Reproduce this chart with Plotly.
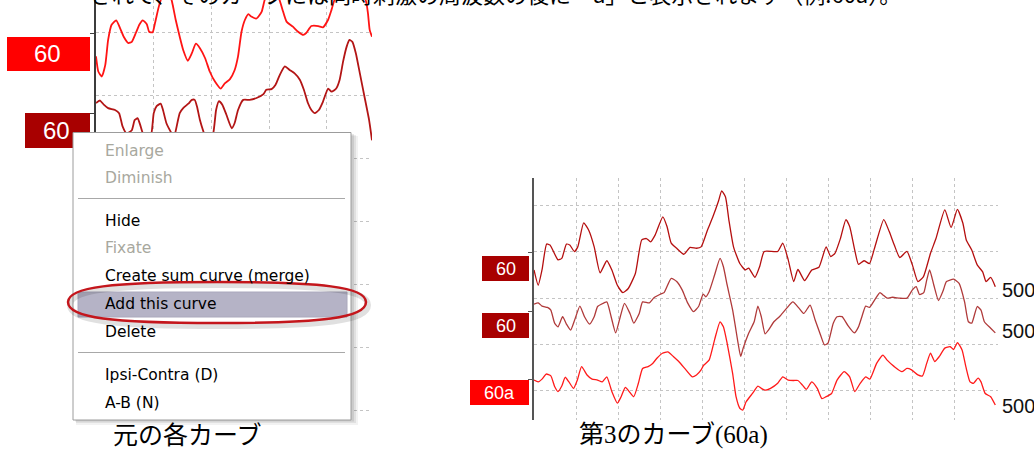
import plotly.graph_objects as go

W, H = 1034, 452

# ---------------- data (time in grid divisions, amplitude in grid divisions) -------------
# Left panel (original curves, partly hidden behind the context menu)
left_a_t = [0.00,0.04,0.10,0.16,0.21,0.27,0.35,0.42,0.48,0.56,0.62,0.69,0.75,0.81,0.88,0.92,0.98,1.02,1.08,1.12,1.21,1.31,1.33,1.38,1.45,1.51,1.59,1.66,1.73,1.80,1.89,1.97,2.06,2.16,2.23,2.32,2.40,2.46,2.52,2.58,2.64,2.69,2.78,2.87,2.92,3.06,3.18,3.23,3.30,3.41,3.50,3.59,3.64,3.73,3.85,3.93,4.02,4.08,4.13,4.39,4.67,4.71,4.74,4.78]
left_a_v = [5.62,5.38,5.30,5.48,5.88,6.12,6.19,6.06,5.93,5.83,5.85,5.99,6.12,6.19,6.13,6.01,6.00,6.14,6.38,6.51,6.75,6.51,6.43,6.20,5.93,5.72,5.55,5.67,5.82,5.75,5.59,5.38,5.22,5.11,5.19,5.26,5.40,5.62,6.01,6.20,6.29,6.25,6.22,6.33,6.51,6.83,6.51,6.36,6.17,6.09,6.01,5.96,5.99,6.10,6.10,6.08,6.20,6.36,6.51,6.83,6.51,6.30,6.04,5.93]
left_b_t = [0.00,0.07,0.14,0.21,0.33,0.40,0.46,0.53,0.62,0.67,0.72,0.76,0.81,0.88,0.96,1.00,1.05,1.12,1.16,1.22,1.29,1.34,1.37,1.45,1.51,1.60,1.66,1.71,1.75,1.80,1.86,1.94,2.03,2.08,2.13,2.19,2.26,2.35,2.40,2.46,2.55,2.66,2.78,2.90,2.95,3.04,3.11,3.18,3.27,3.36,3.44,3.53,3.60,3.67,3.73,3.79,3.86,3.93,4.02,4.08,4.16,4.22,4.28,4.34,4.39,4.44,4.50,4.57,4.65,4.73,4.78]
left_b_v = [4.88,4.92,4.85,4.80,4.77,4.72,4.51,4.40,4.45,4.61,4.64,4.55,4.40,4.27,4.40,4.72,4.83,4.87,4.77,4.56,4.43,4.35,4.40,4.72,4.80,4.87,4.93,4.93,4.82,4.61,4.43,4.24,4.40,4.77,4.91,4.85,4.69,4.48,4.56,4.77,4.93,4.93,4.96,5.02,5.09,5.10,5.17,5.32,5.46,5.40,5.35,5.25,5.09,4.88,4.77,4.72,4.77,4.90,5.11,5.06,5.11,5.25,5.54,5.77,5.88,5.85,5.67,5.35,4.98,4.61,4.29]

# Right panel (two original curves + the added curve "60a")
r1_t = [0.00,0.10,0.19,0.30,0.38,0.57,0.66,0.77,0.85,0.96,1.04,1.18,1.30,1.43,1.57,1.73,1.85,1.98,2.11,2.24,2.41,2.56,2.67,2.77,2.88,3.06,3.16,3.26,3.39,3.56,3.71,3.86,3.97,4.12,4.25,4.38,4.46,4.55,4.63,4.74,4.89,5.02,5.10,5.25,5.36,5.47,5.79,5.91,6.04,6.17,6.27,6.43,6.60,6.77,6.94,7.05,7.15,7.28,7.41,7.50,7.62,7.71,7.84,7.97,8.09,8.31,8.44,8.56,8.69,8.86,8.99,9.12,9.25,9.42,9.55,9.76,9.91,10.06,10.19,10.27,10.40,10.53,10.66,10.74,10.85,10.96]
r1_v = [2.61,2.28,2.61,3.17,3.15,2.83,2.86,3.17,3.15,3.01,3.11,3.63,3.47,3.11,2.55,2.81,2.61,2.28,2.12,2.21,2.54,3.26,3.29,3.22,3.37,3.76,3.55,3.19,3.08,2.95,3.10,3.08,3.11,3.47,3.76,4.09,4.32,4.19,3.69,3.11,2.75,2.61,2.65,2.45,2.68,3.01,3.01,3.19,2.83,2.36,2.62,2.38,2.61,2.67,3.11,2.90,2.97,3.29,3.70,3.55,3.04,2.73,2.81,2.75,3.08,3.70,3.44,3.15,2.88,3.01,2.72,2.36,2.46,2.97,3.29,3.91,3.53,3.92,3.62,3.26,3.04,2.72,2.57,2.36,2.45,2.25]
r2_t = [0.00,0.10,0.19,0.32,0.40,0.49,0.57,0.68,0.77,0.87,0.97,1.09,1.20,1.32,1.43,1.51,1.60,1.73,1.83,1.94,2.05,2.15,2.28,2.37,2.50,2.58,2.74,2.85,3.01,3.09,3.26,3.39,3.52,3.65,3.79,3.91,4.02,4.08,4.16,4.29,4.42,4.50,4.59,4.72,4.85,4.91,4.97,5.10,5.23,5.32,5.40,5.49,5.57,5.70,5.83,6.00,6.15,6.30,6.41,6.56,6.68,6.81,6.90,6.98,7.11,7.20,7.32,7.45,7.61,7.71,7.79,7.88,7.97,8.09,8.22,8.29,8.39,8.52,8.69,8.86,8.99,9.08,9.16,9.26,9.33,9.40,9.50,9.61,9.72,9.80,9.97,10.10,10.23,10.32,10.40,10.53,10.62,10.70,10.85,10.96]
r2_v = [1.87,1.90,1.83,1.80,1.74,1.46,1.38,1.60,1.44,1.31,1.54,1.83,1.60,1.44,1.60,1.82,1.87,1.92,1.61,1.25,1.60,1.89,1.67,1.46,1.67,1.92,1.90,2.01,2.09,2.12,2.43,2.36,2.18,1.90,1.71,1.82,2.09,2.03,2.14,2.50,2.86,2.68,2.28,1.74,1.02,0.74,0.92,1.24,1.49,1.83,1.60,1.23,1.31,1.49,1.60,1.78,1.92,1.78,1.67,1.85,1.53,1.20,0.99,1.02,1.46,1.60,1.60,1.42,1.25,1.38,1.60,1.83,1.80,1.96,2.12,2.07,2.00,2.02,2.00,2.00,2.18,2.25,2.08,2.12,2.39,2.61,2.28,1.95,2.16,2.36,2.41,2.32,1.92,1.49,1.46,1.82,1.74,1.49,1.35,1.25]
r3_t = [0.00,0.10,0.19,0.29,0.40,0.49,0.57,0.66,0.74,0.83,0.94,1.03,1.13,1.26,1.38,1.51,1.62,1.73,1.85,1.98,2.07,2.17,2.28,2.37,2.48,2.58,2.71,2.82,2.92,3.05,3.18,3.31,3.44,3.61,3.76,3.86,3.97,4.03,4.16,4.29,4.42,4.50,4.59,4.72,4.80,4.89,4.96,5.04,5.19,5.32,5.40,5.50,5.62,5.79,5.91,6.04,6.17,6.27,6.38,6.47,6.60,6.73,6.84,6.94,7.07,7.20,7.37,7.50,7.62,7.75,7.88,7.98,8.14,8.29,8.39,8.56,8.74,8.86,8.97,9.12,9.23,9.33,9.42,9.52,9.63,9.76,9.89,9.97,10.06,10.17,10.26,10.36,10.44,10.55,10.62,10.72,10.85,10.96]
r3_v = [0.23,0.19,0.25,0.36,0.32,0.09,-0.02,0.10,0.29,0.19,0.05,0.23,0.52,0.34,0.25,0.23,0.19,0.30,-0.02,-0.27,-0.13,0.07,-0.04,-0.13,0.16,0.48,0.52,0.59,0.70,0.81,0.84,0.74,0.63,0.45,0.30,0.34,0.45,0.55,0.66,1.10,1.49,1.38,1.02,0.37,-0.13,-0.38,-0.42,-0.24,-0.06,0.10,0.05,0.01,0.05,0.16,0.30,0.23,0.22,0.22,0.12,0.03,0.19,0.05,-0.17,-0.13,-0.06,0.23,0.41,0.30,-0.02,0.16,0.30,0.25,0.59,0.77,0.66,0.52,0.41,0.48,0.45,0.34,0.32,0.59,0.81,0.63,0.74,0.92,0.95,0.89,1.04,0.88,0.52,0.19,0.16,0.27,0.19,-0.06,-0.13,-0.31]

left_labels = ["60", "60"]
right_labels = ["60", "60", "60a"]
right_scale = ["500", "500", "500"]
menu_items = ["Enlarge", "Diminish", "Hide", "Fixate", "Create sum curve (merge)",
              "Add this curve", "Delete", "Ipsi-Contra (D)", "A-B (N)"]
menu_enabled = [False, False, True, False, True, True, True, True, True]
captions = ["元の各カーブ", "第3のカーブ(60a)"]
top_text = "されて、そのカーブには同時刺激の周波数の後に「a」と表示されます（例:60a）。"


def X(p):
    return p / W


def Y(p):
    return 1 - p / H


fig = go.Figure()

line_kw = dict(mode="lines", hoverinfo="skip", showlegend=False)
fig.add_trace(go.Scatter(x=left_a_t, y=left_a_v, line=dict(color="#ff1414", width=1.8, shape="spline", smoothing=0.5), xaxis="x", yaxis="y", **line_kw))
fig.add_trace(go.Scatter(x=left_b_t, y=left_b_v, line=dict(color="#b31515", width=1.8, shape="spline", smoothing=0.5), xaxis="x", yaxis="y", **line_kw))
fig.add_trace(go.Scatter(x=r1_t, y=r1_v, line=dict(color="#b50f0f", width=1.3, shape="spline", smoothing=0.5), xaxis="x2", yaxis="y2", **line_kw))
fig.add_trace(go.Scatter(x=r2_t, y=r2_v, line=dict(color="#b03a3a", width=1.3, shape="spline", smoothing=0.5), xaxis="x2", yaxis="y2", **line_kw))
fig.add_trace(go.Scatter(x=r3_t, y=r3_v, line=dict(color="#ff1a1a", width=1.3, shape="spline", smoothing=0.5), xaxis="x2", yaxis="y2", **line_kw))

grid = dict(showgrid=True, gridcolor="#c4c4c4", gridwidth=1, griddash="3px,3px",
            zeroline=False, showticklabels=False, ticks="", tick0=0, dtick=1, fixedrange=True)

fig.update_layout(
    width=W, height=H,
    margin=dict(l=0, r=0, t=0, b=0),
    paper_bgcolor="white", plot_bgcolor="rgba(0,0,0,0)",
    xaxis=dict(domain=[X(96), X(372)], range=[0, 4.78], anchor="y", showline=False, **grid),
    yaxis=dict(domain=[Y(420), 1], range=[-0.143, 6.513], anchor="x", showline=True,
               linecolor="#3c3c3c", linewidth=2,
               minor=dict(tickmode="array", tickvals=[5.99, 4.72], ticks="outside", ticklen=4,
                          tickcolor="#3c3c3c", tickwidth=1, showgrid=False),
               **grid),
    xaxis2=dict(domain=[X(534), X(534 + 11.02 * 42.09)], range=[0, 11.02], anchor="y2", showline=False, **grid),
    yaxis2=dict(domain=[Y(420), Y(178)], range=[-0.634, 4.599], anchor="x2", showline=True,
                linecolor="#555555", linewidth=2,
                minor=dict(tickmode="array", tickvals=[2.98, 1.72, 0.25], ticks="outside", ticklen=4,
                           tickcolor="#555555", tickwidth=1, showgrid=False),
                **grid),
)

shapes = []
annotations = []


def rect(x0, y0, x1, y1, fill, line=None, lw=0):
    shapes.append(dict(type="rect", xref="paper", yref="paper", x0=X(x0), x1=X(x1), y0=Y(y1), y1=Y(y0),
                       fillcolor=fill, line=dict(color=line or fill, width=lw), layer="above"))


def hline(x0, x1, y, color, lw=1):
    shapes.append(dict(type="line", xref="paper", yref="paper", x0=X(x0), x1=X(x1), y0=Y(y), y1=Y(y),
                       line=dict(color=color, width=lw), layer="above"))


def text(s, x, y, size, color, family, xanchor="center"):
    annotations.append(dict(text=s, x=X(x), y=Y(y), xref="paper", yref="paper", showarrow=False,
                            xanchor=xanchor, yanchor="middle", font=dict(size=size, color=color, family=family)))


# Left panel labels
rect(7, 37, 90, 71, "#ff0000")
rect(25, 113, 90, 148, "#a80000")
# Right panel labels
rect(482, 256, 529, 281, "#a80000")
rect(482, 313, 529, 338, "#a80000")
rect(470, 380, 529, 405, "#ff0000")

# Context menu shadow + body
rect(76, 136, 358, 425, "rgba(0,0,0,0.05)")
rect(76, 135, 356, 423, "rgba(0,0,0,0.07)")
rect(75, 134, 354, 421.5, "rgba(0,0,0,0.09)")
rect(73, 132.5, 351, 420, "white", "#9c9c9c", 1)
rect(78, 292, 347, 317, "#b5b3c6", "#aaa8bc", 1)
hline(78, 345, 198.5, "#a8a8a8")
hline(78, 345, 352.5, "#a8a8a8")


# Red highlight ring around "Add this curve"
def ring(dx, dy):
    pts = [(68, 302), (68, 287), (112, 282), (217, 282), (322, 282), (366, 287), (366, 302),
           (366, 318), (322, 323), (217, 323), (112, 323), (68, 318), (68, 302)]
    pts = [(X(a + dx), Y(b + dy)) for a, b in pts]
    p = "M {},{} ".format(*pts[0])
    for i in range(1, 13, 3):
        p += "C {},{} {},{} {},{} ".format(pts[i][0], pts[i][1], pts[i + 1][0], pts[i + 1][1], pts[i + 2][0], pts[i + 2][1])
    return p + "Z"


shapes.append(dict(type="path", xref="paper", yref="paper", path=ring(2, 3),
                   line=dict(color="rgba(0,0,0,0.12)", width=6), layer="above"))
shapes.append(dict(type="path", xref="paper", yref="paper", path=ring(0, 0),
                   line=dict(color="#c4161c", width=2.5), layer="above"))

# menu texts
menu_y = [150.7, 177.7, 220.7, 248.3, 275.7, 304, 331.7, 375, 403.3]
for s, en, yy in zip(menu_items, menu_enabled, menu_y):
    text(s, 103, yy, 15.5, "#000000" if en else "#a8a89e", "DejaVu Sans", "left")

# label texts
text(left_labels[0], 47, 54, 24, "white", "Liberation Sans")
text(left_labels[1], 56, 131, 24, "white", "Liberation Sans")
for s, yy, cx in zip(right_labels, [268.5, 325.5, 392.5], [505.5, 505.5, 499.5]):
    text(s, cx, yy, 18, "white", "Liberation Sans")
for s, yy in zip(right_scale, [289.5, 331, 405.5]):
    text(s, 1000, yy, 20, "#111111", "Liberation Sans", "left")

# captions
text(captions[0], 187, 435, 25, "#000000", "Liberation Serif, Noto Sans CJK JP")
text(captions[1], 673, 435, 25, "#000000", "Liberation Serif, Noto Sans CJK JP")

# clipped paragraph line at the very top (cut off by the image edge, as in the source)
annotations.append(dict(text=top_text, x=X(88), y=Y(-7), xref="paper", yref="paper", showarrow=False,
                        xanchor="left", yanchor="middle",
                        font=dict(size=22, color="#000000", family="Noto Sans CJK JP")))

fig.update_layout(shapes=shapes, annotations=annotations)
fig.write_html("out.html", config={"displayModeBar": False},
               post_script="document.body.style.margin='0px';document.body.style.overflow='hidden';")
